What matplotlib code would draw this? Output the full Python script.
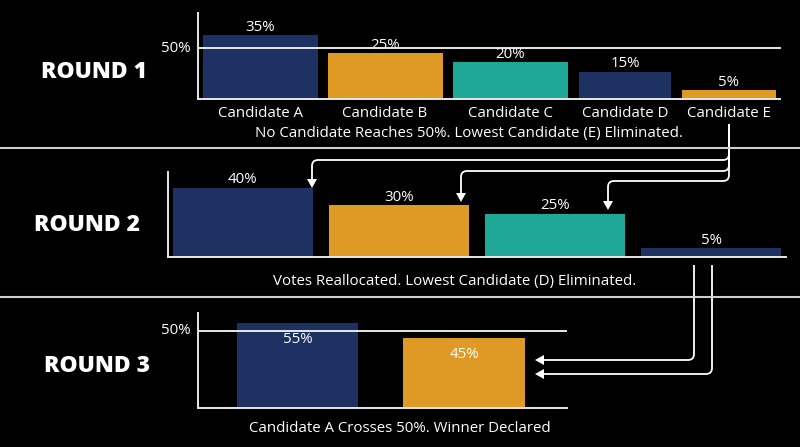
import numpy as np
import matplotlib
matplotlib.use("Agg")
import matplotlib.pyplot as plt
from matplotlib.path import Path
from matplotlib.patches import PathPatch, Polygon

# ---------------- data ----------------
r1_candidates = ["Candidate A", "Candidate B", "Candidate C", "Candidate D", "Candidate E"]
r1_values = [35, 25, 20, 15, 5]
r2_candidates = ["Candidate A", "Candidate B", "Candidate C", "Candidate D"]
r2_values = [40, 30, 25, 5]
r3_candidates = ["Candidate A", "Candidate B"]
r3_values = [55, 45]
threshold = 50
threshold_label = "50%"
round_titles = ["ROUND 1", "ROUND 2", "ROUND 3"]
captions = [
    "No Candidate Reaches 50%. Lowest Candidate (E) Eliminated.",
    "Votes Reallocated. Lowest Candidate (D) Eliminated.",
    "Candidate A Crosses 50%. Winner Declared",
]

# ---------------- style ----------------
NAVY = "#1d3163"
ORANGE = "#df9a26"
TEAL = "#1fa897"
LINE = "#e8e8e8"
SEP = "#cfcfcf"
r1_colors = [NAVY, ORANGE, TEAL, NAVY, ORANGE]
r2_colors = [NAVY, ORANGE, TEAL, NAVY]
r3_colors = [NAVY, ORANGE]

FONT = "Open Sans"
plt.rcParams["font.family"] = [FONT, "DejaVu Sans"]
LBL = 10.8

W, H = 800, 447
fig = plt.figure(figsize=(W / 100, H / 100), dpi=100, facecolor="black")


def px_axes(x0, ytop, x1, ybase, z=2):
    ax = fig.add_axes([x0 / W, 1 - ybase / H, (x1 - x0) / W, (ybase - ytop) / H], zorder=z)
    ax.set_facecolor("none")
    for s in ("top", "right"):
        ax.spines[s].set_visible(False)
    for s in ("left", "bottom"):
        ax.spines[s].set_color(LINE)
        ax.spines[s].set_linewidth(1.4)
    ax.set_yticks([])
    ax.tick_params(axis="x", length=0, colors="white", labelsize=LBL, pad=5)
    return ax


def label_above(ax, xs, vals):
    for p, v in zip(xs, vals):
        ax.annotate(f"{v}%", (p, v), xytext=(0, 5.6), textcoords="offset points",
                    ha="center", va="center", color="white", fontsize=LBL)


# ---------------- Round 1 ----------------
ax1 = px_axes(198, 13, 780, 99)
pos1 = [0, 1, 2, 2.92, 3.75]
wid1 = [0.92, 0.92, 0.92, 0.74, 0.75]
ax1.bar(pos1, r1_values, width=wid1, color=r1_colors, zorder=2)
ax1.set_xlim(-0.496, 4.16)
ax1.set_ylim(0, 47)
ax1.set_xticks(pos1, r1_candidates)
label_above(ax1, pos1, r1_values)
thr_frac = 0.593
ax1.plot([0, 1], [thr_frac, thr_frac], transform=ax1.transAxes, color=LINE, lw=1.4,
         zorder=3, clip_on=False)
ax1.annotate(threshold_label, (0, thr_frac), xycoords="axes fraction", xytext=(-5, 0),
             textcoords="offset points", ha="right", va="center", color="white", fontsize=LBL)

# ---------------- Round 2 ----------------
ax2 = px_axes(168, 172, 786, 257)
pos2 = np.arange(len(r2_values))
ax2.bar(pos2, r2_values, width=0.9, color=r2_colors, zorder=2)
ax2.set_xlim(-0.48, 3.48)
ax2.set_ylim(0, 49.1)
ax2.set_xticks([])
label_above(ax2, pos2, r2_values)

# ---------------- Round 3 ----------------
ax3 = px_axes(198, 313, 567, 408)
pos3 = np.arange(len(r3_values))
ax3.bar(pos3, r3_values, width=0.73, color=r3_colors, zorder=2)
ax3.set_xlim(-0.6, 1.62)
ax3.set_ylim(0, 61.3)
ax3.set_xticks([])
ax3.axhline(threshold, color=LINE, lw=1.4, zorder=3)
ax3.annotate(threshold_label, (-0.6, threshold), xytext=(-5, 0), textcoords="offset points",
             ha="right", va="center", color="white", fontsize=LBL)
for p, v in zip(pos3, r3_values):
    ax3.annotate(f"{v}%", (p, v), xytext=(0, -12), textcoords="offset points",
                 ha="center", va="center", color="white", fontsize=LBL, zorder=4)

# ---------------- overlay: titles, captions, separators, arrows ----------------
ov = fig.add_axes([0, 0, 1, 1], zorder=5)
ov.set_xlim(0, W)
ov.set_ylim(H, 0)
ov.axis("off")
ov.patch.set_visible(False)

for y in (148, 297):
    ov.plot([0, W], [y, y], color=SEP, lw=1.5)

title_xy = [(94, 72), (87, 225), (97, 366)]
for t, (x, y) in zip(round_titles, title_xy):
    ov.text(x, y, t, ha="center", va="center", color="white", fontsize=16.5,
            fontweight="heavy")

cap_xy = [(469, 133), (455, 282), (400, 429)]
for c, (x, y) in zip(captions, cap_xy):
    ov.text(x, y, c, ha="center", va="center", color="white", fontsize=LBL)


def rounded(points, r=6):
    verts = [points[0]]
    codes = [Path.MOVETO]
    for i in range(1, len(points) - 1):
        p0, p1, p2 = (np.array(points[i - 1], float), np.array(points[i], float),
                      np.array(points[i + 1], float))
        d1 = (p1 - p0) / np.linalg.norm(p1 - p0)
        d2 = (p2 - p1) / np.linalg.norm(p2 - p1)
        a = p1 - d1 * r
        b = p1 + d2 * r
        verts += [tuple(a), tuple(p1), tuple(b)]
        codes += [Path.LINETO, Path.CURVE3, Path.CURVE3]
    verts.append(points[-1])
    codes.append(Path.LINETO)
    return Path(verts, codes)


def arrow(points, hl=9, hw=5):
    pts = [np.array(p, float) for p in points]
    tip = pts[-1]
    d = (tip - pts[-2]) / np.linalg.norm(tip - pts[-2])
    pts[-1] = tip - d * (hl - 1)
    ov.add_patch(PathPatch(rounded([tuple(p) for p in pts]), fill=False,
                           edgecolor="white", lw=1.3, capstyle="butt"))
    n = np.array([-d[1], d[0]])
    base = tip - d * hl
    ov.add_patch(Polygon([tuple(tip), tuple(base + n * hw), tuple(base - n * hw)],
                         closed=True, color="white", lw=0))


arrow([(729, 124), (729, 160), (312, 160), (312, 188)])
arrow([(729, 124), (729, 171), (461, 171), (461, 202)])
arrow([(729, 124), (729, 181), (608, 181), (608, 210)])
arrow([(694, 265), (694, 360), (535, 360)])
arrow([(712, 265), (712, 374), (535, 374)])

fig.savefig("out.png", dpi=100, facecolor="black")
